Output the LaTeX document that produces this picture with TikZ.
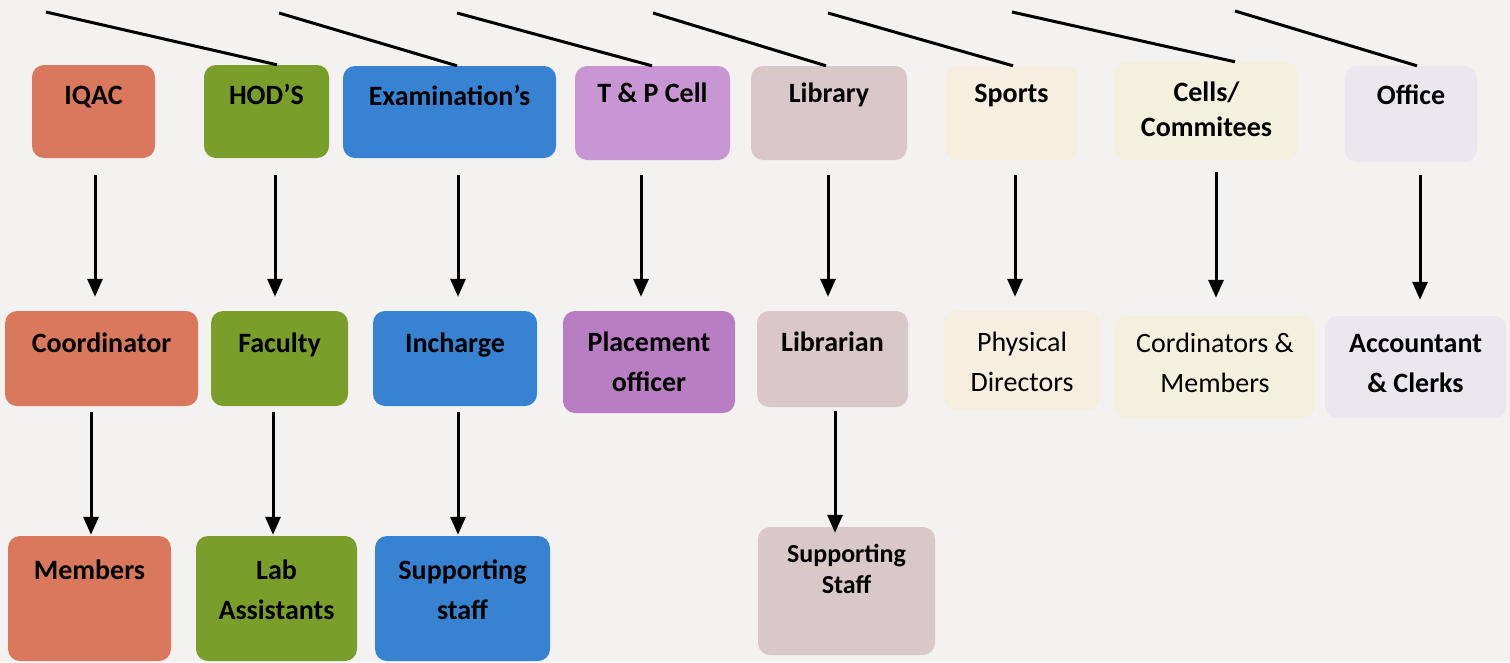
\documentclass[tikz,border=0pt]{standalone}
\usepackage{fontspec}
\setmainfont{Carlito}
\usetikzlibrary{arrows.meta}
\definecolor{bgc}{RGB}{243,242,240}
\definecolor{salmon}{RGB}{218,120,94}
\definecolor{olive}{RGB}{122,158,42}
\definecolor{sky}{RGB}{56,130,210}
\definecolor{violetA}{RGB}{200,150,210}
\definecolor{violetB}{RGB}{185,125,195}
\definecolor{pinkbeige}{RGB}{218,200,200}
\definecolor{creamA}{RGB}{246,238,222}
\definecolor{creamB}{RGB}{243,240,222}
\definecolor{greyish}{RGB}{234,232,238}
\newcommand\bt[4]{\parbox[c][#2pt][t]{#1pt}{\centering\vspace*{#3pt}\strut#4}}
\tikzset{
  box/.style={rounded corners=12pt, inner sep=0pt, draw=none, font=\fontsize{28}{40}\selectfont\bfseries},
  reg/.style={font=\fontsize{28}{40}\selectfont},
  link/.style={line width=3pt, black},
  arr/.style={line width=3pt, black, -{Triangle[length=18pt,width=15pt]}},
}
\begin{document}
\begin{tikzpicture}[x=1pt,y=-1pt]
\fill[bgc] (0,0) rectangle (1510,662);
\useasboundingbox (0,0) rectangle (1510,662);
% top row
\node[box, fill=salmon] (iqac) at (93.5,111.5) {\bt{123}{93}{11}{IQAC}};
\node[box, fill=olive] (hod) at (266.5,111.5) {\bt{125}{93}{11}{HOD’S}};
\node[box, fill=sky] (exam) at (449.5,112) {\bt{213}{92}{11}{Examination’s}};
\node[box, fill=violetA] (tp) at (652.5,113) {\bt{155}{94}{8}{T \& P Cell}};
\node[box, fill=pinkbeige] (lib) at (829,113) {\bt{156}{94}{8}{Library}};
\node[box, fill=creamA] (sports) at (1011.5,113) {\bt{133}{94}{8}{Sports}};
\node[box, fill=creamB, font=\fontsize{28}{35}\selectfont\bfseries] (cells) at (1206.5,111) {\bt{183}{98}{15}{Cells/\\Commitees}};
\node[box, fill=greyish] (office) at (1411,114) {\bt{132}{96}{10}{Office}};
% middle row
\node[box, fill=salmon] (coord) at (101.5,358.5) {\bt{193}{95}{13}{Coordinator}};
\node[box, fill=olive] (fac) at (279.5,358.5) {\bt{137}{95}{13}{Faculty}};
\node[box, fill=sky] (inch) at (455,358.5) {\bt{164}{95}{13}{Incharge}};
\node[box, fill=violetB] (place) at (649,362) {\bt{172}{102}{12}{Placement\\officer}};
\node[box, fill=pinkbeige] (libn) at (832.5,359) {\bt{151}{96}{12}{Librarian}};
\node[box, reg, fill=creamA] (phys) at (1022,360.5) {\bt{156}{99}{12}{Physical\\Directors}};
\node[box, reg, fill=creamB] (cord) at (1215,367) {\bt{200}{102}{8}{Cordinators \&\\Members}};
\node[box, fill=greyish] (acct) at (1415.5,367) {\bt{181}{102}{8}{Accountant\\\& Clerks}};
% bottom row
\node[box, fill=salmon] (mem) at (89.5,598.5) {\bt{163}{125}{15}{Members}};
\node[box, fill=olive] (lab) at (276.5,598.5) {\bt{161}{125}{15}{Lab\\Assistants}};
\node[box, fill=sky] (sup) at (462.5,598.5) {\bt{175}{125}{15}{Supporting\\staff}};
\node[box, fill=pinkbeige, font=\fontsize{26}{31}\selectfont\bfseries] (sups) at (846.5,591) {\bt{177}{128}{14}{Supporting\\Staff}};
% top connectors
\coordinate (s1) at (46,12);
\coordinate (s2) at (279,13);
\coordinate (s3) at (457,13);
\coordinate (s4) at (653,13);
\coordinate (s5) at (828,13);
\coordinate (s6) at (1012,12);
\coordinate (s7) at (1235,11);
\draw[link] (s1) -- (hod.north -| 277,0);
\draw[link] (s2) -- (exam.north -| 457,0);
\draw[link] (s3) -- (tp.north -| 652,0);
\draw[link] (s4) -- (lib.north -| 826,0);
\draw[link] (s5) -- (sports.north -| 1013,0);
\draw[link] (s6) -- (cells.north -| 1235,0);
\draw[link] (s7) -- (office.north -| 1417,0);
% arrows top -> middle
\draw[arr, shorten <=17pt, shorten >=14pt] (iqac.south -| 95,0) -- (coord.north -| 95,0);
\draw[arr, shorten <=17pt, shorten >=14pt] (hod.south -| 275,0) -- (fac.north -| 275,0);
\draw[arr, shorten <=17pt, shorten >=14pt] (exam.south -| 458,0) -- (inch.north -| 458,0);
\draw[arr, shorten <=15pt, shorten >=14pt] (tp.south -| 641,0) -- (place.north -| 641,0);
\draw[arr, shorten <=15pt, shorten >=14pt] (lib.south -| 828,0) -- (libn.north -| 828,0);
\draw[arr, shorten <=15pt, shorten >=14pt] (sports.south -| 1015,0) -- (phys.north -| 1015,0);
\draw[arr, shorten <=12pt, shorten >=18pt] (cells.south -| 1216,0) -- (cord.north -| 1216,0);
\draw[arr, shorten <=13pt, shorten >=16pt] (office.south -| 1420,0) -- (acct.north -| 1420,0);
% arrows middle -> bottom
\draw[arr, shorten <=6pt, shorten >=1pt] (coord.south -| 91,0) -- (mem.north -| 91,0);
\draw[arr, shorten <=6pt, shorten >=1pt] (fac.south -| 273,0) -- (lab.north -| 273,0);
\draw[arr, shorten <=6pt, shorten >=1pt] (inch.south -| 458,0) -- (sup.north -| 458,0);
\draw[arr, shorten <=4pt, shorten >=-6pt] (libn.south -| 835,0) -- (sups.north -| 835,0);
\end{tikzpicture}
\end{document}
